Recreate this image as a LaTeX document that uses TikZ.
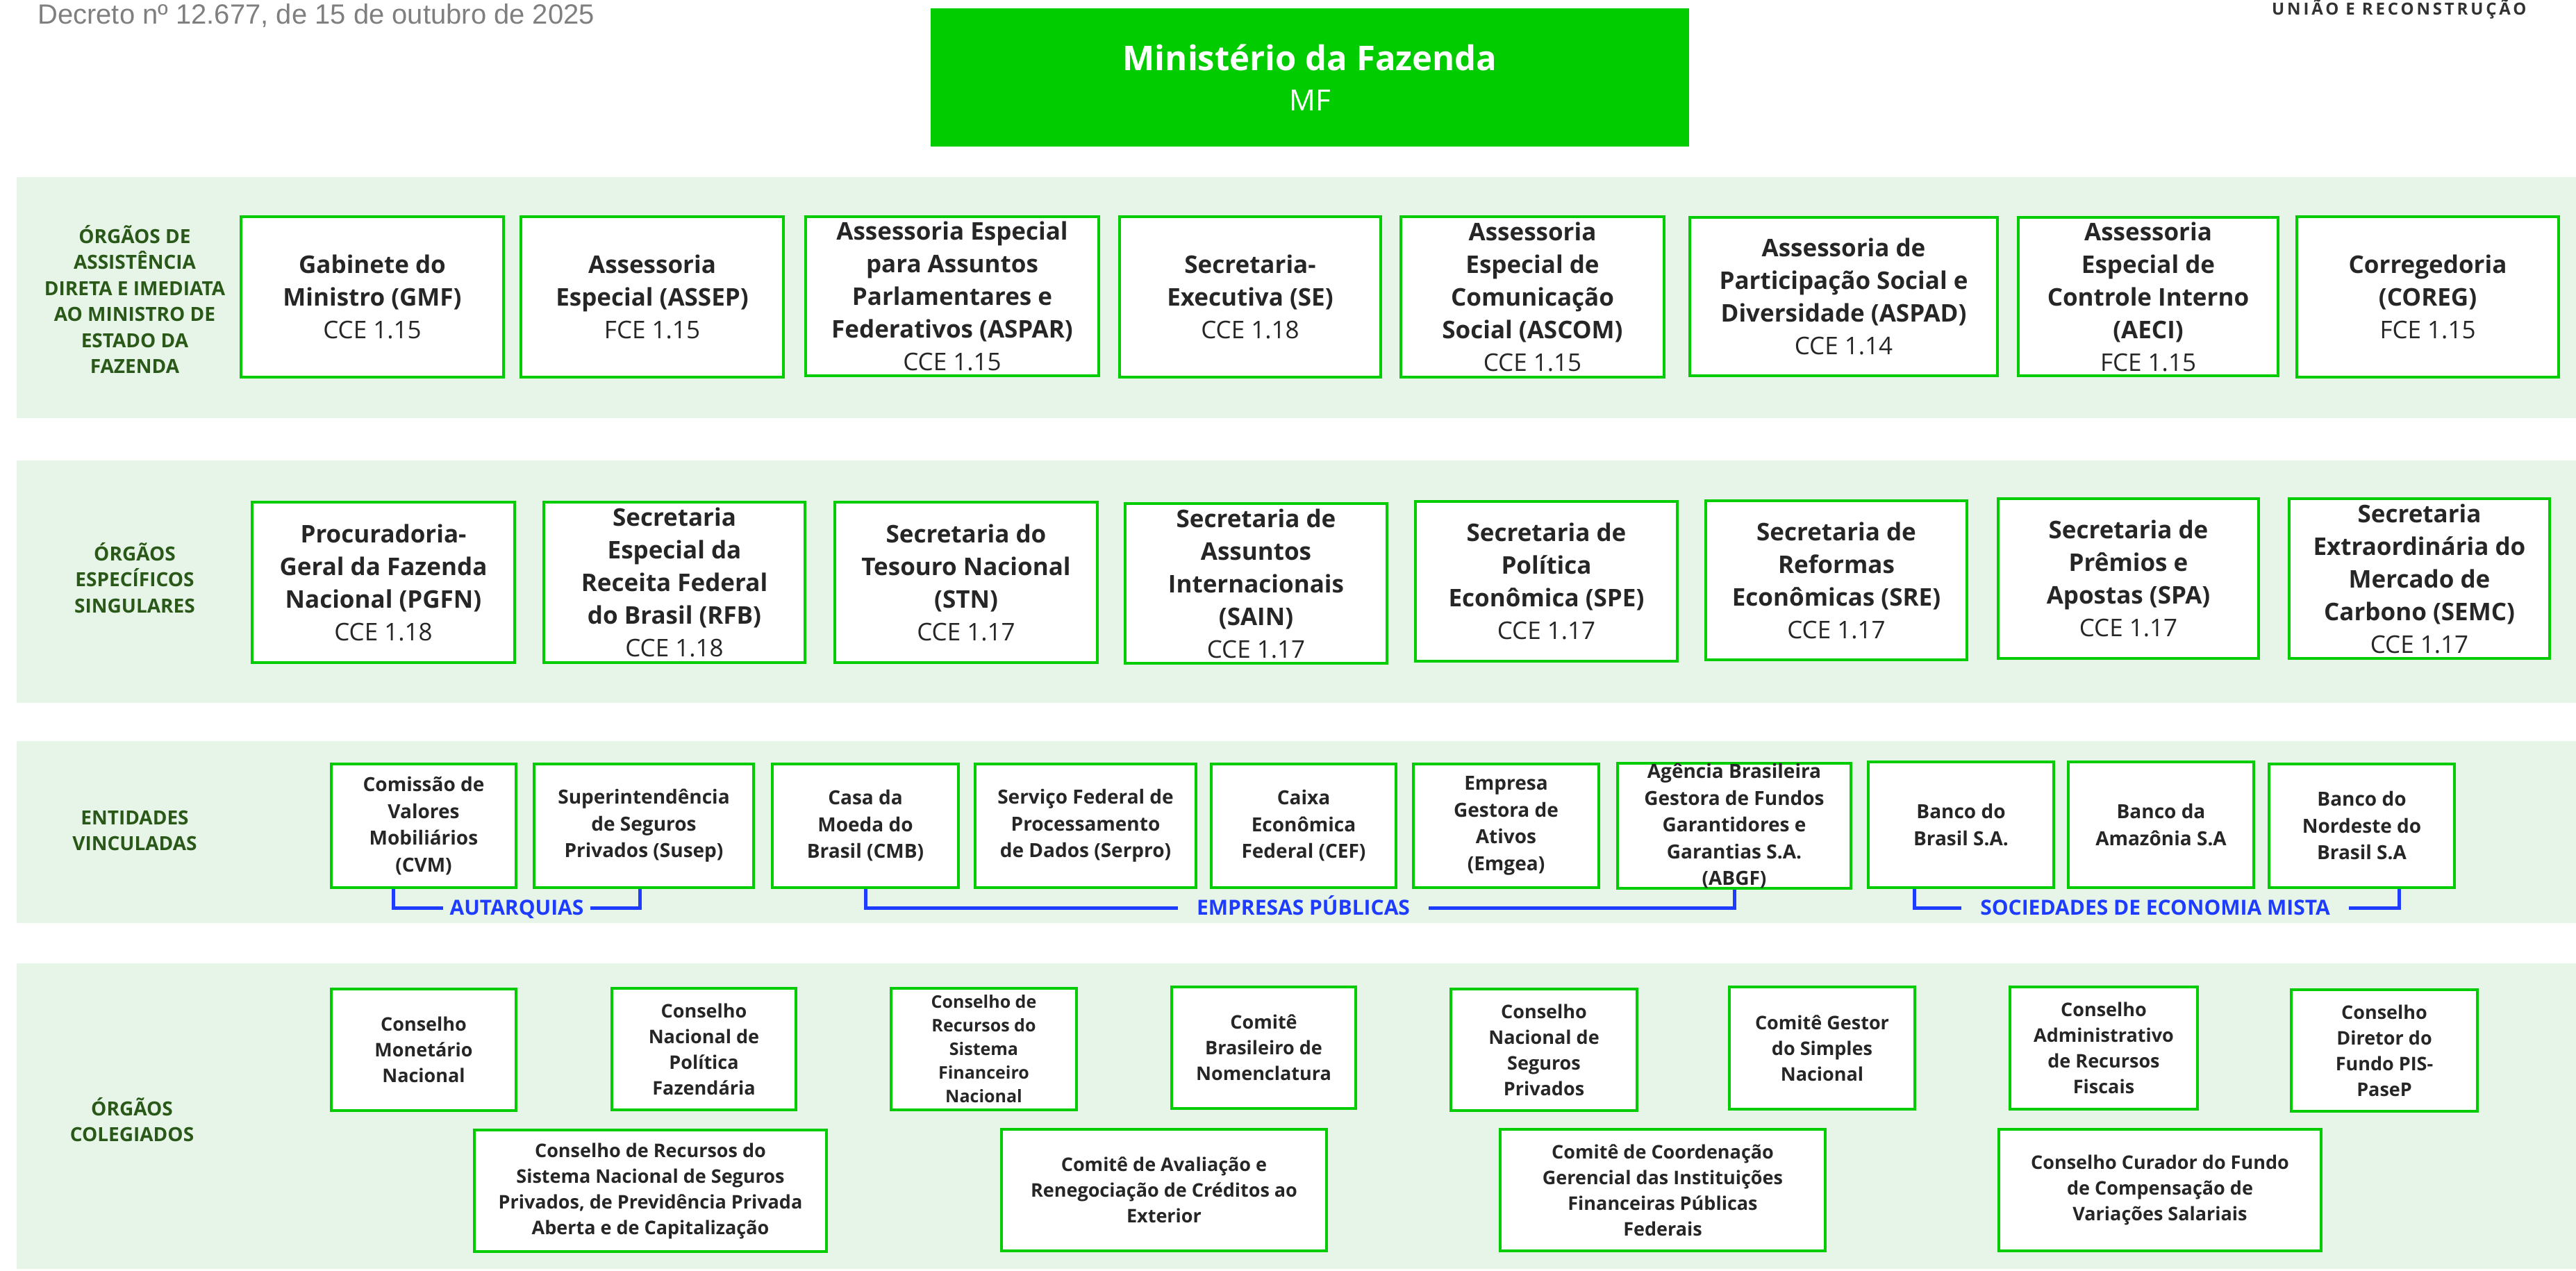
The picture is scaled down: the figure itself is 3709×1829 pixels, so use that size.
\documentclass[tikz,border=0pt]{standalone}
\usepackage{fontspec}
\setmainfont{Open Sans}
\newfontfamily\decretofont{Liberation Sans}
\newfontfamily\lemafont[LetterSpace=16]{Open Sans}
\usetikzlibrary{positioning, calc}

\definecolor{mfgreen}{RGB}{0,204,0}
\definecolor{bandgreen}{RGB}{230,245,232}
\definecolor{labelgreen}{RGB}{42,88,24}
\definecolor{boxtext}{RGB}{38,38,38}
\definecolor{brkblue}{RGB}{30,60,255}
\definecolor{decretogray}{RGB}{127,127,127}
\definecolor{lemagray}{RGB}{50,50,50}

\tikzset{
  band/.style={fill=bandgreen, draw=none},
  sz/.style 2 args={minimum width=#1pt, minimum height=#2pt},
  orgbox/.style={draw=mfgreen, line width=4pt, fill=white, align=center, text=boxtext, inner sep=0pt},
  bigbox/.style={orgbox, font=\fontsize{35}{47}\selectfont\bfseries},
  entbox/.style={orgbox, font=\fontsize{28}{38.5}\selectfont\bfseries},
  colbox/.style={orgbox, font=\fontsize{27}{37}\selectfont\bfseries},
  grouplabel/.style={text=labelgreen, align=center, font=\fontsize{28}{37.5}\selectfont\bfseries},
  brk/.style={draw=brkblue, line width=5pt},
  brklabel/.style={text=brkblue, font=\fontsize{30}{30}\selectfont\bfseries, inner xsep=27pt, inner ysep=0pt, text height=21pt, text depth=0pt}
}

\begin{document}
\begin{tikzpicture}[x=1pt, y=-1pt]
  \useasboundingbox (0,0) rectangle (3709,1829);

  \fill[band] (24,255) rectangle (3709,602);
  \fill[band] (24,663) rectangle (3709,1012);
  \fill[band] (24,1067) rectangle (3709,1329);
  \fill[band] (24,1387) rectangle (3709,1827);

  \node[anchor=base west, inner sep=0pt, text=decretogray, font=\decretofont\fontsize{40}{40}\selectfont] (decreto) at (54,34) {Decreto nº 12.677, de 15 de outubro de 2025};
  \node[anchor=base west, inner sep=0pt, text=lemagray, font=\lemafont\fontsize{24}{24}\selectfont\bfseries] (lema) at (3271,21) {UNIÃO E RECONSTRUÇÃO};

  \node[fill=mfgreen, sz={1092}{199}, align=center, text=white, font=\fontsize{42}{58}\selectfont] (mf) at (1886,111.5)
    {{\fontsize{49}{58}\selectfont\bfseries Ministério da Fazenda}\\MF};

  \node[grouplabel] (assist) at (194,431) {ÓRGÃOS DE\\ASSISTÊNCIA\\DIRETA E IMEDIATA\\AO MINISTRO DE\\ESTADO DA\\FAZENDA};
  \node[grouplabel] (especif) at (194,832) {ÓRGÃOS\\ESPECÍFICOS\\SINGULARES};
  \node[grouplabel] (vincul) at (194,1196) {ENTIDADES\\VINCULADAS};
  \node[grouplabel] (colegi) at (190,1612) {ÓRGÃOS\\COLEGIADOS};

  \node[bigbox, sz={378}{231}] (gmf) at (536,427.5) {Gabinete do\\Ministro (GMF)\\\mdseries CCE 1.15};
  \node[bigbox, sz={378}{231}] (assep) at (939,427.5) {Assessoria\\Especial (ASSEP)\\\mdseries FCE 1.15};
  \node[bigbox, sz={422}{229}] (aspar) at (1371,426.5) {Assessoria Especial\\para Assuntos\\Parlamentares e\\Federativos (ASPAR)\\\mdseries CCE 1.15};
  \node[bigbox, sz={376}{231}] (se) at (1800,427.5) {Secretaria-\\Executiva (SE)\\\mdseries CCE 1.18};
  \node[bigbox, sz={379}{231}] (ascom) at (2206.5,427.5) {Assessoria\\Especial de\\Comunicação\\Social (ASCOM)\\\mdseries CCE 1.15};
  \node[bigbox, sz={443}{228}] (aspad) at (2654.5,427) {Assessoria de\\Participação Social e\\Diversidade (ASPAD)\\\mdseries CCE 1.14};
  \node[bigbox, sz={374}{228}] (aeci) at (3093,427) {Assessoria\\Especial de\\Controle Interno\\(AECI)\\\mdseries FCE 1.15};
  \node[bigbox, sz={377}{231}] (coreg) at (3495.5,427.5) {Corregedoria\\(COREG)\\\mdseries FCE 1.15};

  \node[bigbox, sz={378}{231}] (pgfn) at (552,838.5) {Procuradoria-\\Geral da Fazenda\\Nacional (PGFN)\\\mdseries CCE 1.18};
  \node[bigbox, sz={376}{231}] (rfb) at (971,838.5) {Secretaria\\Especial da\\Receita Federal\\do Brasil (RFB)\\\mdseries CCE 1.18};
  \node[bigbox, sz={378}{231}] (stn) at (1391,838.5) {Secretaria do\\Tesouro Nacional\\(STN)\\\mdseries CCE 1.17};
  \node[bigbox, sz={377}{230}] (sain) at (1808.5,840) {Secretaria de\\Assuntos\\Internacionais\\(SAIN)\\\mdseries CCE 1.17};
  \node[bigbox, sz={377}{230}] (spe) at (2226.5,837) {Secretaria de\\Política\\Econômica (SPE)\\\mdseries CCE 1.17};
  \node[bigbox, sz={376}{229}] (sre) at (2644,835.5) {Secretaria de\\Reformas\\Econômicas (SRE)\\\mdseries CCE 1.17};
  \node[bigbox, sz={375}{230}] (spa) at (3064.5,833) {Secretaria de\\Prêmios e\\Apostas (SPA)\\\mdseries CCE 1.17};
  \node[bigbox, sz={375}{230}] (semc) at (3483.5,833) {Secretaria\\Extraordinária do\\Mercado de\\Carbono (SEMC)\\\mdseries CCE 1.17};

  \node[entbox, sz={266}{178}] (cvm) at (610,1189) {Comissão de\\Valores\\Mobiliários\\(CVM)};
  \node[entbox, sz={316}{178}] (susep) at (927,1189) {Superintendência\\de Seguros\\Privados (Susep)};
  \node[entbox, sz={268}{178}] (cmb) at (1246,1189) {Casa da\\Moeda do\\Brasil (CMB)};
  \node[entbox, sz={318}{178}] (serpro) at (1563,1189) {Serviço Federal de\\Processamento\\de Dados (Serpro)};
  \node[entbox, sz={266}{178}] (cef) at (1877,1189) {Caixa\\Econômica\\Federal (CEF)};
  \node[entbox, sz={267}{178}] (emgea) at (2168.5,1189) {Empresa\\Gestora de\\Ativos\\(Emgea)};
  \node[entbox, sz={336}{178}] (abgf) at (2497,1189) {Agência Brasileira\\Gestora de Fundos\\Garantidores e\\Garantias S.A.\\(ABGF)};
  \node[entbox, sz={267}{181}] (bb) at (2823.5,1187.5) {Banco do\\Brasil S.A.};
  \node[entbox, sz={267}{181}] (basa) at (3111.5,1187.5) {Banco da\\Amazônia S.A};
  \node[entbox, sz={267}{178}] (bnb) at (3400.5,1189) {Banco do\\Nordeste do\\Brasil S.A};

  \node[brklabel, inner xsep=9pt] (autarq) at (744,1307) {AUTARQUIAS};
  \node[brklabel] (emppub) at (1876.5,1307) {EMPRESAS PÚBLICAS};
  \node[brklabel] (socmista) at (3103,1307) {SOCIEDADES DE ECONOMIA MISTA};
  \draw[brk] ([xshift=-44pt]cvm.south) |- (autarq.west);
  \draw[brk] (autarq.east) -| ([xshift=-6pt]susep.south);
  \draw[brk] (cmb.south) |- (emppub.west);
  \draw[brk] (emppub.east) -| (abgf.south);
  \draw[brk] ([xshift=-67.5pt]bb.south) |- (socmista.west);
  \draw[brk] (socmista.east) -| ([xshift=53.5pt]bnb.south);

  \node[colbox, sz={266}{175}] (cmn) at (610,1511.5) {Conselho\\Monetário\\Nacional};
  \node[colbox, sz={265}{175}] (cnpf) at (1013.5,1510.5) {Conselho\\Nacional de\\Política\\Fazendária};
  \node[colbox, sz={267}{175}, font=\fontsize{25}{34}\selectfont\bfseries] (crsfn) at (1416.5,1510.5) {Conselho de\\Recursos do\\Sistema\\Financeiro\\Nacional};
  \node[colbox, sz={265}{175}] (cbn) at (1819.5,1508.5) {Comitê\\Brasileiro de\\Nomenclatura};
  \node[colbox, sz={268}{175}] (cnsp) at (2223,1511.5) {Conselho\\Nacional de\\Seguros\\Privados};
  \node[colbox, sz={267}{176}] (cgsn) at (2623.5,1509) {Comitê Gestor\\do Simples\\Nacional};
  \node[colbox, sz={270}{176}] (carf) at (3029,1509) {Conselho\\Administrativo\\de Recursos\\Fiscais};
  \node[colbox, sz={268}{175}] (pispasep) at (3433,1512.5) {Conselho\\Diretor do\\Fundo PIS-\\PaseP};

  \node[colbox, sz={507}{175}] (crsnsp) at (936.5,1714.5) {Conselho de Recursos do\\Sistema Nacional de Seguros\\Privados, de Previdência Privada\\Aberta e de Capitalização};
  \node[colbox, sz={468}{175}] (cofiex) at (1676,1713.5) {Comitê de Avaliação e\\Renegociação de Créditos ao\\Exterior};
  \node[colbox, sz={468}{175}] (comif) at (2394,1713.5) {Comitê de Coordenação\\Gerencial das Instituições\\Financeiras Públicas\\Federais};
  \node[colbox, sz={464}{175}] (ccfcvs) at (3110,1713.5) {Conselho Curador do Fundo\\de Compensação de\\Variações Salariais};
\end{tikzpicture}
\end{document}
